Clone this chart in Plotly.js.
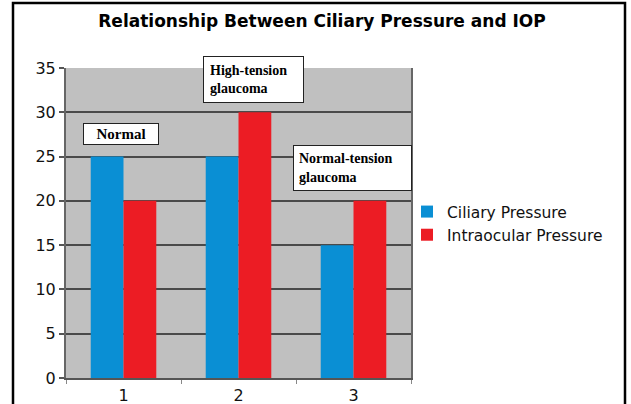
<!DOCTYPE html>
<html>
<head>
<meta charset="utf-8">
<script src="https://cdn.plot.ly/plotly-3.0.1.min.js"></script>
<style>html,body{margin:0;padding:0;background:#fff;}</style>
</head>
<body>
<div id="chart" style="width:631px;height:404px;"></div>
<script>
const categories = ['1', '2', '3'];
const ciliaryPressure = [25, 25, 15];
const intraocularPressure = [20, 30, 20];
const seriesNames = ['Ciliary Pressure', 'Intraocular Pressure'];
const boxLabels = ['<b>Normal</b>', '<b>High-tension<br>glaucoma</b>', '<b>Normal-tension<br>glaucoma</b>'];
const chartTitle = '<b>Relationship Between Ciliary Pressure and IOP</b>';

// pixel -> paper helpers (plot area 66..411 x 68..378)
const L = 66, R = 411, T = 68, B = 378;
const px = x => (x - L) / (R - L);
const py = y => (B - y) / (B - T);

const traces = [
  {type: 'bar', x: categories, y: ciliaryPressure, name: seriesNames[0],
   marker: {color: '#0a8fd4'}},
  {type: 'bar', x: categories, y: intraocularPressure, name: seriesNames[1],
   marker: {color: '#ec1c24'}}
];

const boxFont = {family: 'Liberation Serif, Times New Roman, serif', size: 14, color: '#000'};
const layout = {
  width: 631, height: 404,
  margin: {l: L, r: 631 - R, t: T, b: 404 - B},
  paper_bgcolor: '#ffffff',
  plot_bgcolor: '#c0c0c0',
  barmode: 'group',
  bargap: 0.43,
  bargroupgap: 0,
  showlegend: true,
  title: {text: chartTitle, font: {family: 'DejaVu Sans, Verdana, sans-serif', size: 17, color: '#000'},
          x: 322 / 631, xanchor: 'center', y: 1 - 21 / 404, yanchor: 'middle'},
  font: {family: 'DejaVu Sans, Verdana, sans-serif', size: 15, color: '#111'},
  xaxis: {type: 'category', showgrid: false, showline: true, linecolor: '#555', linewidth: 2,
          ticks: 'outside', tickson: 'boundaries', ticklen: 4, tickcolor: '#888', tickwidth: 1,
          ticklabelstandoff: 2,
          tickfont: {size: 16, color: '#111'}, zeroline: false, fixedrange: true},
  yaxis: {range: [0, 35], dtick: 5, showgrid: true, gridcolor: '#4a4a4a', gridwidth: 2,
          showline: true, mirror: true, linecolor: '#666', linewidth: 2,
          ticks: 'outside', ticklen: 5, tickcolor: '#555', tickwidth: 2,
          tickfont: {size: 16, color: '#111'}, zeroline: false, fixedrange: true},
  legend: {x: px(407), xanchor: 'left', y: py(223.5), yanchor: 'middle',
           font: {family: 'DejaVu Sans, Verdana, sans-serif', size: 15.5, color: '#111'},
           bgcolor: 'rgba(0,0,0,0)', tracegroupgap: 0},
  shapes: [
    {type: 'rect', xref: 'paper', yref: 'paper', x0: px(13), x1: px(625), y0: py(430), y1: py(3),
     line: {color: '#000', width: 2.5}, fillcolor: 'rgba(0,0,0,0)', layer: 'above'}
  ],
  annotations: [
    {xref: 'paper', yref: 'paper', x: px(83), y: py(123), xanchor: 'left', yanchor: 'top',
     text: boxLabels[0], showarrow: false, font: Object.assign({}, boxFont, {size: 15}), align: 'center',
     width: 72, height: 18, borderpad: 1, bgcolor: '#fff', bordercolor: '#222', borderwidth: 1},
    {xref: 'paper', yref: 'paper', x: px(203), y: py(56), xanchor: 'left', yanchor: 'top',
     text: boxLabels[1], showarrow: false, font: boxFont, align: 'left', valign: 'middle',
     width: 87, height: 33, borderpad: 6, bgcolor: '#fff', bordercolor: '#222', borderwidth: 1},
    {xref: 'paper', yref: 'paper', x: px(293), y: py(145), xanchor: 'left', yanchor: 'top',
     text: boxLabels[2], showarrow: false, font: boxFont, align: 'left', valign: 'middle',
     width: 107, height: 34, borderpad: 5, bgcolor: '#fff', bordercolor: '#222', borderwidth: 1}
  ]
};

Plotly.newPlot('chart', traces, layout, {displayModeBar: false, staticPlot: true});
</script>
</body>
</html>
